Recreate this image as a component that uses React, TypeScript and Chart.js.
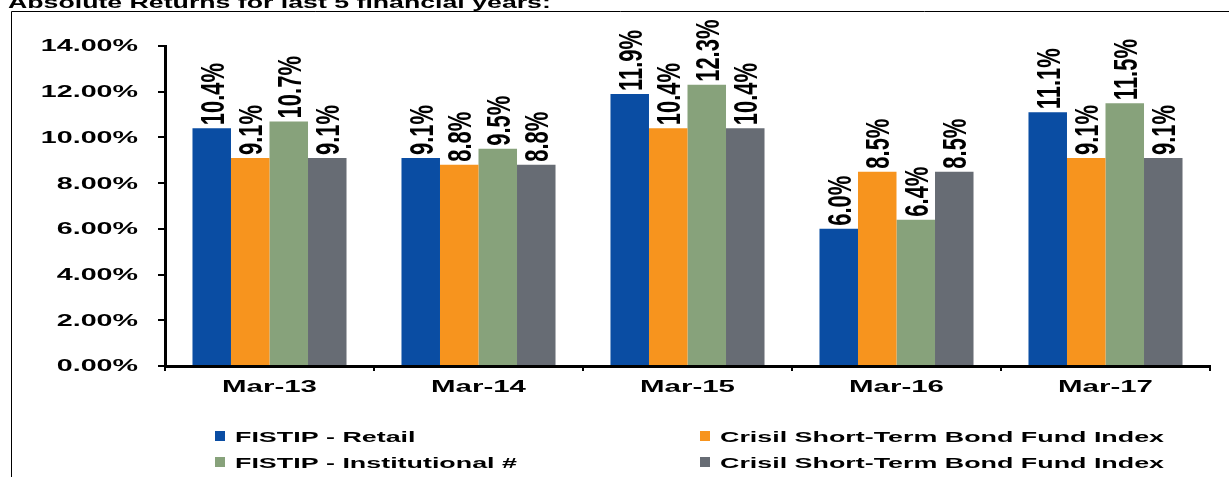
import React, { useEffect, useRef } from "react";
import { Chart, registerables } from "chart.js";

Chart.register(...registerables);

const TITLE = "Absolute Returns for last 5 financial years:";
const categories = ["Mar-13", "Mar-14", "Mar-15", "Mar-16", "Mar-17"];
const seriesNames = [
  "FISTIP - Retail",
  "Crisil Short-Term Bond Fund Index",
  "FISTIP - Institutional #",
  "Crisil Short-Term Bond Fund Index",
];
const retail = [10.4, 9.1, 11.9, 6.0, 11.1];
const crisilRetail = [9.1, 8.8, 10.4, 8.5, 9.1];
const institutional = [10.7, 9.5, 12.3, 6.4, 11.5];
const crisilInst = [9.1, 8.8, 10.4, 8.5, 9.1];
const seriesColors = ["#0A4DA3", "#F7941E", "#87A27B", "#676C74"];
const yMin = 0;
const yMax = 14;
const yStep = 2;

const FONT = '"Liberation Sans", Arial, sans-serif';

function drawText(
  ctx: CanvasRenderingContext2D,
  text: string,
  x: number,
  y: number,
  size: number,
  sx: number,
  align: CanvasTextAlign,
  baseline: CanvasTextBaseline
) {
  ctx.save();
  ctx.translate(x, y);
  ctx.scale(sx, 1);
  ctx.font = `bold ${size}px ${FONT}`;
  ctx.fillStyle = "#000";
  ctx.textAlign = align;
  ctx.textBaseline = baseline;
  ctx.fillText(text, 0, 0);
  ctx.restore();
}

const textPlugin = {
  id: "customText",
  afterDraw(chart: any) {
    const ctx: CanvasRenderingContext2D = chart.ctx;
    ctx.save();
    // frame
    ctx.strokeStyle = "#000";
    ctx.lineWidth = 1;
    ctx.beginPath();
    ctx.moveTo(11.5, 477);
    ctx.lineTo(11.5, 11.5);
    ctx.lineTo(1229, 11.5);
    ctx.stroke();

    // title
    drawText(ctx, TITLE, 8, 8, 17, 1.57, "left", "alphabetic");

    // y tick labels
    const ys = chart.scales.y;
    ys.ticks.forEach((t: any) => {
      const py = ys.getPixelForValue(t.value);
      drawText(ctx, t.value.toFixed(2) + "%", 138, py + 1, 16, 1.79, "right", "middle");
    });

    // x labels
    const xs = chart.scales.x;
    categories.forEach((c, i) => {
      const px = xs.getPixelForValue(i);
      drawText(ctx, c, px, 392, 17, 1.73, "center", "alphabetic");
    });

    // data labels (rotated)
    const lblSize = 22;
    const lblSx = 1.5;
    const cap = lblSize * 0.716;
    chart.data.datasets.forEach((ds: any, i: number) => {
      const meta = chart.getDatasetMeta(i);
      meta.data.forEach((bar: any, j: number) => {
        const v = ds.data[j] as number;
        ctx.save();
        ctx.translate(bar.x + (cap * lblSx) / 2, bar.y - 3);
        ctx.scale(lblSx, 1);
        ctx.rotate(-Math.PI / 2);
        ctx.font = `bold ${lblSize}px ${FONT}`;
        ctx.fillStyle = "#000";
        ctx.textAlign = "left";
        ctx.textBaseline = "alphabetic";
        ctx.fillText(v.toFixed(1) + "%", 0, 0);
        ctx.restore();
      });
    });

    // legend
    const cols = [215, 700];
    const rows = [436, 462];
    chart.data.datasets.forEach((ds: any, i: number) => {
      const cx = cols[i % 2];
      const cy = rows[Math.floor(i / 2)];
      ctx.fillStyle = ds.backgroundColor;
      ctx.fillRect(cx, cy - 5, 10, 10);
      drawText(ctx, ds.label, cx + 20, cy + 5.5, 15, 1.79, "left", "alphabetic");
    });
    ctx.restore();
  },
};

export default function App() {
  const ref = useRef<HTMLCanvasElement | null>(null);
  useEffect(() => {
    if (!ref.current) return;
    const data = [retail, crisilRetail, institutional, crisilInst];
    const chart = new Chart(ref.current, {
      type: "bar",
      data: {
        labels: categories,
        datasets: data.map((d, i) => ({
          label: seriesNames[i],
          data: d,
          backgroundColor: seriesColors[i],
          borderWidth: 0,
          categoryPercentage: 0.737,
          barPercentage: 1,
        })),
      },
      options: {
        responsive: false,
        animation: false,
        devicePixelRatio: 1,
        layout: { padding: { left: 158, right: 19, top: 46, bottom: 106 } },
        plugins: {
          legend: { display: false },
          tooltip: { enabled: false },
        },
        scales: {
          x: {
            offset: true,
            grid: {
              display: true,
              drawOnChartArea: false,
              drawTicks: true,
              tickLength: 5,
              color: "#000",
              lineWidth: 2,
              offset: true,
            },
            border: { display: true, color: "#000", width: 3 },
            ticks: { display: false },
          },
          y: {
            min: yMin,
            max: yMax,
            ticks: { stepSize: yStep, display: false },
            grid: {
              display: true,
              drawOnChartArea: false,
              drawTicks: true,
              tickLength: 7,
              color: "#000",
              lineWidth: 2,
            },
            border: { display: true, color: "#000", width: 3 },
          },
        },
      },
      plugins: [textPlugin],
    });
    return () => chart.destroy();
  }, []);
  return (
    <div style={{ position: "absolute", left: 0, top: 0, width: 1229, height: 477, background: "#fff" }}>
      <canvas ref={ref} width={1229} height={477} />
    </div>
  );
}
